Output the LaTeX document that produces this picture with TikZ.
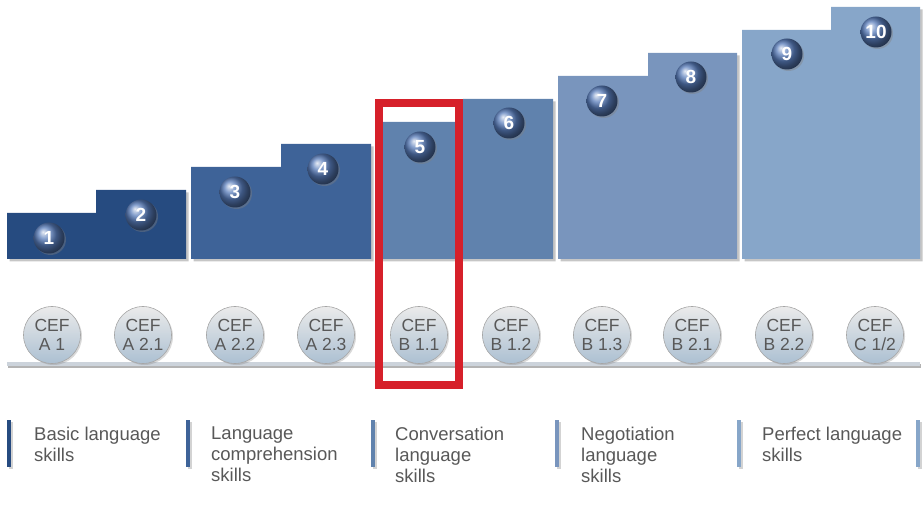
\documentclass[tikz,border=0pt]{standalone}
\usepackage{fontspec}
\setmainfont{Liberation Sans}
\usetikzlibrary{shadows}

\definecolor{levelA}{RGB}{38,75,128}
\definecolor{levelB}{RGB}{62,99,152}
\definecolor{levelC}{RGB}{96,130,173}
\definecolor{levelD}{RGB}{121,149,189}
\definecolor{levelE}{RGB}{135,166,201}
\definecolor{ballblue}{RGB}{88,124,186}
\definecolor{labelgray}{RGB}{88,88,88}
\definecolor{basegray}{RGB}{204,211,219}
\definecolor{marker}{RGB}{214,32,42}

\begin{document}
\begin{tikzpicture}[
		x=1pt, y=-1pt,
		stepblock/.style={drop shadow={shadow xshift=2.5pt, shadow yshift=-2.5pt, opacity=0.45}},
		numball/.style={circle, minimum size=31pt, inner sep=0pt, shading=ball, ball color=ballblue,
			text=white, font=\fontsize{19}{20}\selectfont\bfseries,
			drop shadow={shadow xshift=1.5pt, shadow yshift=-1.5pt, opacity=0.4}},
		cefball/.style={circle, minimum size=57pt, inner sep=0pt, draw=black!35, line width=0.6pt,
			top color=black!8, bottom color={rgb,255:red,172;green,192;blue,210},
			text=labelgray, align=center, font=\fontsize{17.5}{19}\selectfont,
			drop shadow={shadow xshift=1.5pt, shadow yshift=-1.5pt, opacity=0.3}},
		skillbar/.style={minimum width=4pt, minimum height=47pt, inner sep=0pt, anchor=north west,
			drop shadow={shadow xshift=2pt, shadow yshift=-2pt, opacity=0.35}},
		skilltext/.style={anchor=north west, inner sep=0pt, align=left, text=labelgray,
			font=\fontsize{18.5}{21}\selectfont}
	]
  \useasboundingbox (0,0) rectangle (923,510);

  % stair blocks
  \path[fill=levelA, stepblock] (7,259) |- (96,213) |- (186,190) -- (186,259) -- cycle;
  \path[fill=levelB, stepblock] (191,259) |- (281,167) |- (371,144) -- (371,259) -- cycle;
  \path[fill=levelC, stepblock] (376,259) |- (463,122) |- (553,99) -- (553,259) -- cycle;
  \path[fill=levelD, stepblock] (558,259) |- (648,76) |- (737,53) -- (737,259) -- cycle;
  \path[fill=levelE, stepblock] (742,259) |- (831,30) |- (920,7) -- (920,259) -- cycle;

  % numbered balls
  \node (n1) [numball] at (49,238) {1};
  \node (n2) [numball] at (141,215) {2};
  \node (n3) [numball] at (235,192) {3};
  \node (n4) [numball] at (323,169) {4};
  \node (n5) [numball] at (420,147) {5};
  \node (n6) [numball] at (509,123) {6};
  \node (n7) [numball] at (602,101) {7};
  \node (n8) [numball] at (691,77) {8};
  \node (n9) [numball] at (787,54) {9};
  \node (n10) [numball] at (876,32) {10};

  % base line
  \path[fill=basegray, drop shadow={shadow xshift=1pt, shadow yshift=-2pt, opacity=0.6}] (7,362) rectangle (920,366);

  % CEF levels
  \node (c1) [cefball] at (52,335) {CEF\\A 1};
  \node (c2) [cefball] at (143,335) {CEF\\A 2.1};
  \node (c3) [cefball] at (235,335) {CEF\\A 2.2};
  \node (c4) [cefball] at (326,335) {CEF\\A 2.3};
  \node (c5) [cefball] at (419,335) {CEF\\B 1.1};
  \node (c6) [cefball] at (511,335) {CEF\\B 1.2};
  \node (c7) [cefball] at (602,335) {CEF\\B 1.3};
  \node (c8) [cefball] at (692,335) {CEF\\B 2.1};
  \node (c9) [cefball] at (784,335) {CEF\\B 2.2};
  \node (c10) [cefball] at (875,335) {CEF\\C 1/2};

  % highlight
  \draw[marker, line width=8pt] (378.5,103) rectangle (459,385);

  % skill groups
  \node (b1) [skillbar, fill=levelA] at (7,420) {};
  \node (b2) [skillbar, fill=levelB] at (186,420) {};
  \node (b3) [skillbar, fill=levelC] at (371,420) {};
  \node (b4) [skillbar, fill=levelD] at (555,420) {};
  \node (b5) [skillbar, fill=levelE] at (737,420) {};
  \node (b6) [skillbar, fill=levelE] at (916,420) {};
  \node (s1) [skilltext] at (34,427) {Basic language\\skills};
  \node (s2) [skilltext] at (211,427) {Language\\comprehension\\skills};
  \node (s3) [skilltext] at (395,427) {Conversation\\language\\skills};
  \node (s4) [skilltext] at (581,427) {Negotiation\\language\\skills};
  \node (s5) [skilltext] at (762,427) {Perfect language\\skills};
\end{tikzpicture}
\end{document}
